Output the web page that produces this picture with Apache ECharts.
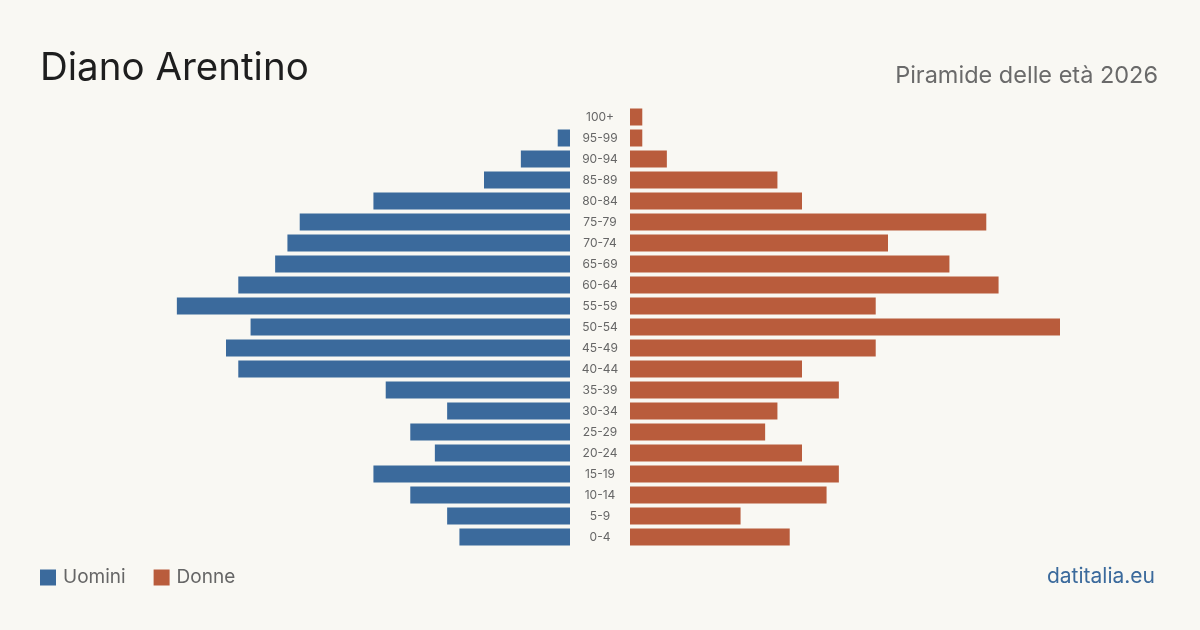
<!DOCTYPE html>
<html>
<head>
<meta charset="utf-8">
<script src="https://cdn.jsdelivr.net/npm/echarts@6/dist/echarts.min.js"></script>
<style>
	html, body { margin: 0; padding: 0; background: #f9f8f3; }
	#chart { width: 1200px; height: 630px; }
</style>
</head>
<body>
<div id="chart"></div>
<script>
// classi di età, dal basso verso l'alto
var classi = ['0-4', '5-9', '10-14', '15-19', '20-24', '25-29', '30-34', '35-39', '40-44', '45-49',
	'50-54', '55-59', '60-64', '65-69', '70-74', '75-79', '80-84', '85-89', '90-94', '95-99', '100+'];
var uomini = [9, 10, 13, 16, 11, 13, 10, 15, 27, 28, 26, 32, 27, 24, 23, 22, 16, 7, 4, 1, 0];
var donne = [13, 9, 16, 17, 14, 11, 12, 17, 14, 20, 35, 20, 30, 26, 21, 29, 14, 12, 3, 1, 1];
var maxVal = 35;

var font = 'Inter, "Noto Sans", sans-serif';
var blu = '#3b6a9c';
var rosso = '#b95c3c';

var chart = echarts.init(document.getElementById('chart'));
var option = {
	backgroundColor: '#f9f8f3',
	animation: false,
	textStyle: { fontFamily: font },
	title: [{
		text: 'Diano Arentino',
		left: 40, top: 49, padding: 0,
		textStyle: { fontSize: 38.5, fontWeight: 'normal', color: '#1e1e1e', fontFamily: font }
	}, {
		text: 'Piramide delle età 2026',
		right: 42, top: 64, padding: 0,
		textStyle: { fontSize: 23.5, fontWeight: 'normal', color: '#6a6a6a', fontFamily: font }
	}, {
		text: 'datitalia.eu',
		right: 45, top: 566, padding: 0,
		textStyle: { fontSize: 21, fontWeight: 'normal', color: '#3b6a9c', fontFamily: font }
	}],
	legend: {
		left: 40, top: 568, padding: 0,
		itemWidth: 16, itemHeight: 16, itemGap: 28,
		icon: 'rect',
		textStyle: { fontSize: 19, color: '#666', fontFamily: font, padding: [0, 0, 0, 2] },
		data: ['Uomini', 'Donne']
	},
	grid: [
		{ left: 140, width: 430, top: 106.5, height: 441 },
		{ left: 630, width: 430, top: 106.5, height: 441 }
	],
	xAxis: [
		{ gridIndex: 0, type: 'value', min: 0, max: maxVal, inverse: true, show: false },
		{ gridIndex: 1, type: 'value', min: 0, max: maxVal, show: false }
	],
	yAxis: [
		{ gridIndex: 0, type: 'category', data: classi, show: false },
		{
			gridIndex: 1, type: 'category', data: classi, position: 'left',
			axisLine: { show: false }, axisTick: { show: false },
			axisLabel: { margin: 30, align: 'center', fontSize: 12, color: '#666', fontFamily: font }
		}
	],
	series: [{
		name: 'Uomini', type: 'bar', xAxisIndex: 0, yAxisIndex: 0,
		data: uomini, barCategoryGap: '19%',
		itemStyle: { color: blu }
	}, {
		name: 'Donne', type: 'bar', xAxisIndex: 1, yAxisIndex: 1,
		data: donne, barCategoryGap: '19%',
		itemStyle: { color: rosso }
	}]
};
chart.setOption(option);
</script>
</body>
</html>
